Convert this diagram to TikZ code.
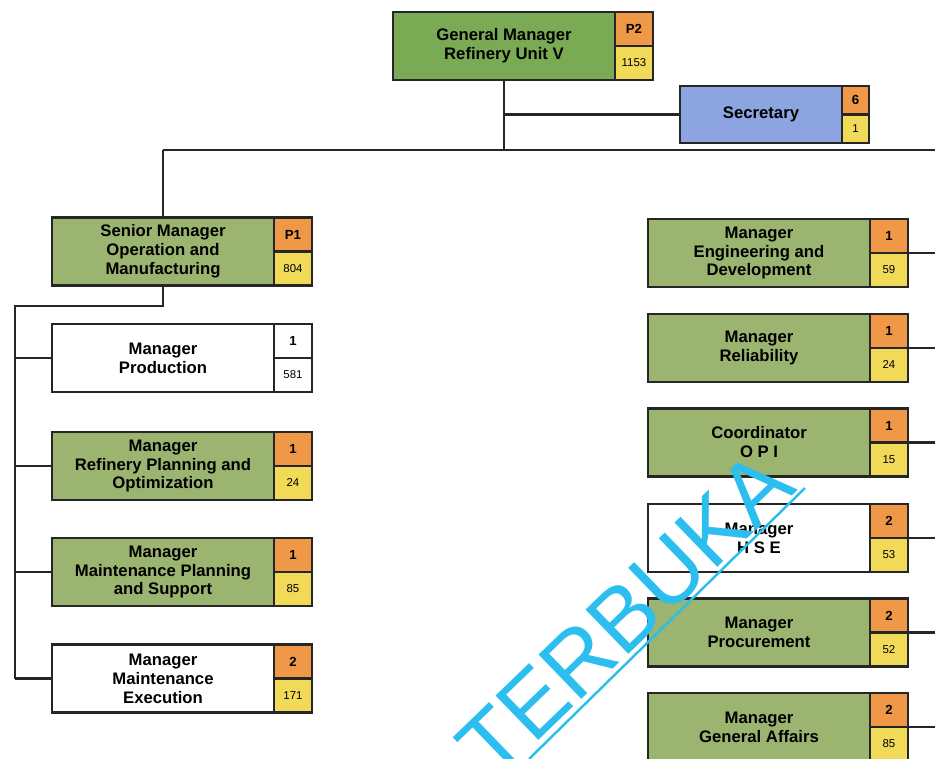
\documentclass[tikz,border=0pt]{standalone}
\usepackage{fontspec}
\setmainfont{Liberation Sans}
\usetikzlibrary{positioning}

\definecolor{gmgreen}{RGB}{122,170,84}
\definecolor{boxgreen}{RGB}{155,180,112}
\definecolor{cellorange}{RGB}{238,152,72}
\definecolor{cellyellow}{RGB}{240,218,88}
\definecolor{secblue}{RGB}{140,165,224}
\definecolor{wmcyan}{RGB}{45,190,240}

\tikzset{
  unit/.style={draw=black!85, line width=1.3pt, minimum width=4.44cm, minimum height=1.36cm,
    inner sep=1pt, outer sep=0pt, align=center, font=\fontsize{9.5}{10.8}\selectfont\bfseries},
  cell/.style={draw=black!85, line width=1.3pt, minimum width=0.76cm, minimum height=0.68cm,
    inner sep=0pt, outer sep=0pt, font=\fontsize{7.5}{8}\selectfont\bfseries},
  smallcell/.style={cell, minimum width=0.54cm, minimum height=0.57cm},
  num/.style={font=\fontsize{6.5}{7}\selectfont},
  link/.style={draw=black!85, line width=1.3pt},
  wm/.style={text=wmcyan, inner sep=0pt, font=\fontsize{51}{51}\selectfont}
}

% side cells: #1 cell style, #2 node, #3/#4 top fill/text, #5/#6 bottom fill/text
\newcommand{\cells}[6]{%
  \node[#1, fill=#3, anchor=north west] (#2a) at (#2.north east) {#4};
  \node[#1, num, fill=#5, below=0pt of #2a] (#2b) {#6};
}

\begin{document}
\begin{tikzpicture}[x=0.02cm, y=-0.02cm]
  \useasboundingbox (0,0) rectangle (935,759);
  \clip (0,0) rectangle (935,759);

  % top
  \node[unit, fill=gmgreen] (gm) at (504,46) {General Manager\\Refinery Unit V};
  \cells{cell}{gm}{cellorange}{P2}{cellyellow}{1153}
  \node[unit, fill=secblue, minimum width=3.24cm, minimum height=1.14cm] (sec) at (761,114.5) {Secretary};
  \cells{smallcell}{sec}{cellorange}{6}{cellyellow}{1}

  \coordinate (barL) at (163,150);
  \coordinate (barR) at (935,150);
  \coordinate (spine) at (15,306);

  % left column
  \node[unit, fill=boxgreen] (sm) at (163,251.5) {Senior Manager\\Operation and\\Manufacturing};
  \cells{cell}{sm}{cellorange}{P1}{cellyellow}{804}
  \node[unit, fill=white] (prod) at (163,358) {Manager\\Production};
  \cells{cell}{prod}{white}{1}{white}{581}
  \node[unit, fill=boxgreen] (rpo) at (163,466) {Manager\\Refinery Planning and\\Optimization};
  \cells{cell}{rpo}{cellorange}{1}{cellyellow}{24}
  \node[unit, fill=boxgreen] (mps) at (163,572) {Manager\\Maintenance Planning\\and Support};
  \cells{cell}{mps}{cellorange}{1}{cellyellow}{85}
  \node[unit, fill=white] (exe) at (163,678.5) {Manager\\Maintenance\\Execution};
  \cells{cell}{exe}{cellorange}{2}{cellyellow}{171}

  % right column
  \node[unit, fill=boxgreen] (eng) at (759,253) {Manager\\Engineering and\\Development};
  \cells{cell}{eng}{cellorange}{1}{cellyellow}{59}
  \node[unit, fill=boxgreen] (rel) at (759,348) {Manager\\Reliability};
  \cells{cell}{rel}{cellorange}{1}{cellyellow}{24}
  \node[unit, fill=boxgreen] (opi) at (759,442.5) {Coordinator\\O P I};
  \cells{cell}{opi}{cellorange}{1}{cellyellow}{15}
  \node[unit, fill=white] (hse) at (759,538) {Manager\\H S E};
  \cells{cell}{hse}{cellorange}{2}{cellyellow}{53}
  \node[unit, fill=boxgreen] (proc) at (759,632.5) {Manager\\Procurement};
  \cells{cell}{proc}{cellorange}{2}{cellyellow}{52}
  \node[unit, fill=boxgreen] (ga) at (759,727) {Manager\\General Affairs};
  \cells{cell}{ga}{cellorange}{2}{cellyellow}{85}

  % connectors
  \draw[link] (gm.south) -- (gm.south |- barL);
  \draw[link] (gm.south |- sec.west) -- (sec.west);
  \draw[link] (barL) -- (barR);
  \draw[link] (barL) -- (sm.north);
  \draw[link] (sm.south) |- (spine) -- (spine |- exe.west);
  \foreach \n in {prod,rpo,mps,exe}
    \draw[link] (spine |- \n.west) -- (\n.west);
  \foreach \n in {eng,rel,opi,hse,proc,ga}
    \draw[link] (\n a.south east) -- (\n a.south east -| barR);

  % watermark
  \node[wm, rotate=44, anchor=base west] (mark) at (494,784) {TERBUKA};
  \coordinate (markA) at (529,759);
  \coordinate (markB) at (805,488);
  \draw[wmcyan, line width=1.4pt] (markA) -- (markB);
\end{tikzpicture}
\end{document}
